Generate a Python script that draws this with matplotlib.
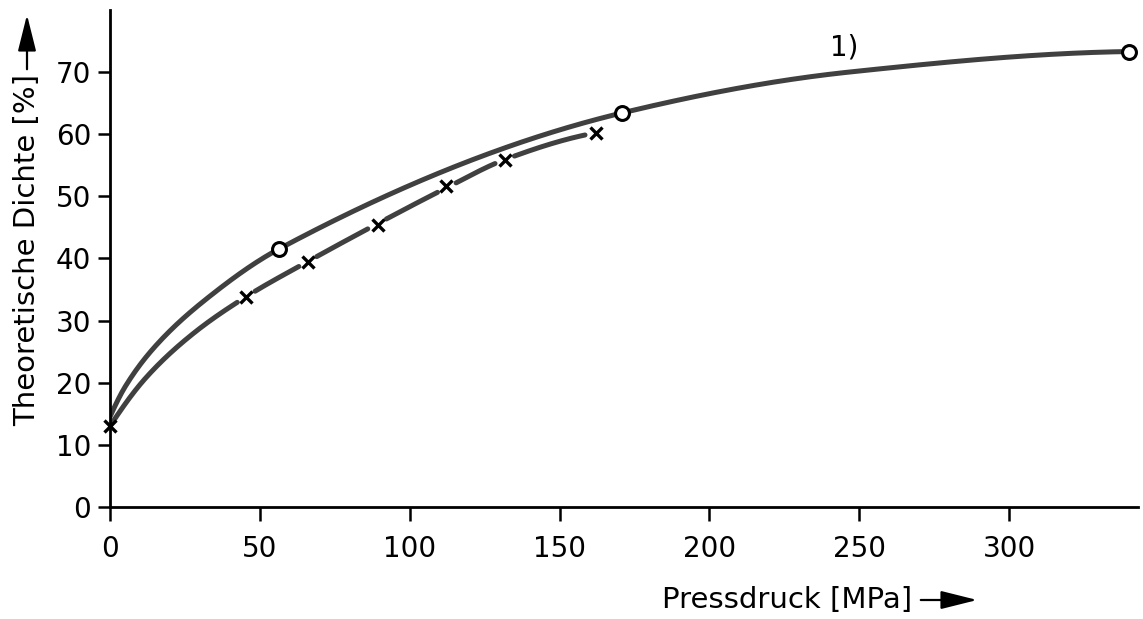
import numpy as np
import matplotlib
matplotlib.use('Agg')
import matplotlib.pyplot as plt
from matplotlib.patches import FancyArrowPatch

# Kurve 1) (Kreise) - Messpunkte und abgelesener Linienverlauf
kreis_x = [56.3, 170.7, 340.0]
kreis_y = [41.5, 63.4, 73.3]
linie1_x = [0, 5, 15, 31.7, 56.3, 170.7, 246.7, 340.0]
linie1_y = [14.5, 19.3, 25.8, 33.3, 41.5, 63.4, 70.0, 73.3]

# Kurve 2 (Kreuze)
kreuz_x = [0, 45.3, 66.0, 89.3, 112.0, 131.7, 162.0]
kreuz_y = [13.0, 33.8, 39.5, 45.4, 51.7, 55.9, 60.2]
linie2_x = [0, 12, 28, 45.3, 66.0, 89.3, 112.0, 131.7, 162.0]
linie2_y = [13.0, 20.8, 28.0, 33.8, 39.5, 45.6, 51.3, 55.9, 60.2]

x_ticks = [0, 50, 100, 150, 200, 250, 300]
y_ticks = [0, 10, 20, 30, 40, 50, 60, 70]

LINE = '#404040'


def pchip(x, y, xs):
    # monotone kubische Hermite-Interpolation (Fritsch-Carlson)
    x = np.asarray(x, float)
    y = np.asarray(y, float)
    h = np.diff(x)
    d = np.diff(y) / h
    m = np.zeros_like(y)
    for k in range(1, len(x) - 1):
        if d[k - 1] * d[k] > 0:
            w1 = 2 * h[k] + h[k - 1]
            w2 = h[k] + 2 * h[k - 1]
            m[k] = (w1 + w2) / (w1 / d[k - 1] + w2 / d[k])
    m[0] = max(0.0, ((2 * h[0] + h[1]) * d[0] - h[0] * d[1]) / (h[0] + h[1]))
    m[-1] = max(0.0, ((2 * h[-1] + h[-2]) * d[-1] - h[-1] * d[-2]) / (h[-1] + h[-2]))
    idx = np.clip(np.searchsorted(x, xs) - 1, 0, len(x) - 2)
    t = (xs - x[idx]) / h[idx]
    h00 = 2 * t**3 - 3 * t**2 + 1
    h10 = t**3 - 2 * t**2 + t
    h01 = -2 * t**3 + 3 * t**2
    h11 = t**3 - t**2
    return (h00 * y[idx] + h10 * h[idx] * m[idx]
            + h01 * y[idx + 1] + h11 * h[idx] * m[idx + 1])


fig = plt.figure(figsize=(11.43, 6.19), dpi=100)
ax = fig.add_axes([0.0962, 0.181, 0.8995, 0.803])
ax.set_xlim(0, 343)
ax.set_ylim(0, 80)

for s in ['top', 'right']:
    ax.spines[s].set_visible(False)
for s in ['left', 'bottom']:
    ax.spines[s].set_linewidth(2.0)

ax.set_xticks(x_ticks)
ax.set_yticks(y_ticks)
ax.tick_params(axis='both', labelsize=20, width=1.8, direction='out')
ax.tick_params(axis='x', length=10, pad=10)
ax.tick_params(axis='y', length=8.5, pad=5)

# Kurve 1
xs1 = np.linspace(linie1_x[0], linie1_x[-1], 600)
ax.plot(xs1, pchip(linie1_x, linie1_y, xs1), color=LINE, lw=3.6,
        solid_capstyle='round', zorder=2)
ax.plot(kreis_x, kreis_y, 'o', ms=10, mfc='white', mec='black', mew=2.2,
        zorder=4, clip_on=False)

# Kurve 2: Linie mit Luecken an den Kreuzen
xs2 = np.linspace(linie2_x[0], linie2_x[-1], 600)
ys2 = pchip(linie2_x, linie2_y, xs2)
pix = ax.transData.transform(np.column_stack([xs2, ys2]))
mpix = ax.transData.transform(np.column_stack([kreuz_x, kreuz_y]))
dist = np.min(np.hypot(pix[:, None, 0] - mpix[None, :, 0],
                       pix[:, None, 1] - mpix[None, :, 1]), axis=1)
keep = (dist > 10) | (xs2 < 20)
ax.plot(xs2, np.where(keep, ys2, np.nan), color=LINE, lw=3.6,
        solid_capstyle='round', zorder=2)
ax.plot(kreuz_x, kreuz_y, 'x', ms=9, mec='black', mew=2.4, zorder=4,
        clip_on=False)

ax.text(245, 74.0, '1)', fontsize=20, ha='center', va='center')

# Achsenbeschriftungen mit Pfeilen
pfeil = '-|>,head_length=14,head_width=3.5'
fig.text(662 / 1143, 1 - 600 / 619, 'Pressdruck [MPa]', fontsize=21,
         ha='left', va='center')
fig.add_artist(FancyArrowPatch(
    (918 / 1143, 1 - 600 / 619), (980 / 1143, 1 - 600 / 619),
    transform=fig.transFigure, arrowstyle=pfeil,
    lw=1.6, color='black', mutation_scale=1.6))

fig.text(27 / 1143, 1 - 250 / 619, 'Theoretische Dichte [%]', fontsize=21,
         rotation=90, ha='center', va='center')
fig.add_artist(FancyArrowPatch(
    (27 / 1143, 1 - 72 / 619), (27 / 1143, 1 - 12 / 619),
    transform=fig.transFigure, arrowstyle=pfeil,
    lw=1.6, color='black', mutation_scale=1.6))

fig.savefig('out.png', dpi=100)
